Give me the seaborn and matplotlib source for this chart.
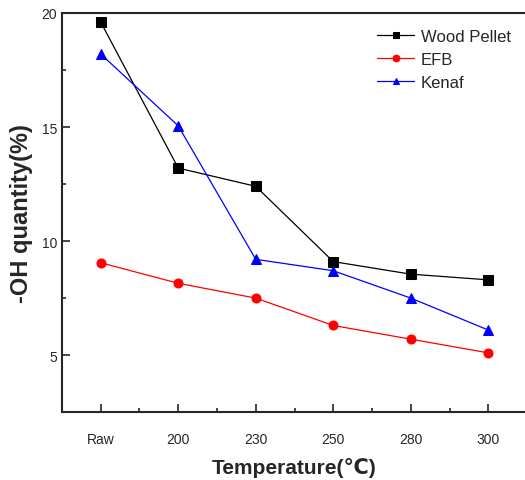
import seaborn as sns
import pandas as pd
import matplotlib.pyplot as plt
from matplotlib.ticker import MultipleLocator, FixedLocator

# Data
temps = ["Raw", "200", "230", "250", "280", "300"]
wood_pellet = [19.6, 13.2, 12.4, 9.1, 8.55, 8.3]
efb = [9.05, 8.15, 7.5, 6.3, 5.7, 5.1]
kenaf = [18.2, 15.05, 9.2, 8.7, 7.5, 6.1]

series = ["Wood Pellet", "EFB", "Kenaf"]
colors = ["black", "red", "blue"]
markers = ["s", "o", "^"]

df = pd.DataFrame({
    "Temperature": temps * 3,
    "OH": wood_pellet + efb + kenaf,
    "sample": sum([[s] * len(temps) for s in series], []),
})

sns.set_style("ticks")
plt.rcParams["font.family"] = ["Liberation Sans", "DejaVu Sans"]

fig = plt.figure(figsize=(5.25, 4.81), dpi=100)
ax = fig.add_axes([0.118, 0.141, 0.886, 0.830])

sns.lineplot(data=df, x="Temperature", y="OH", hue="sample", style="sample",
             palette=colors, markers=markers, dashes=False, sort=False,
             markersize=6.5, linewidth=0.9, markeredgecolor=None, ax=ax)

ax.set_xlim(-0.5, 5.5)
ax.set_ylim(2.5, 20)
ax.yaxis.set_major_locator(MultipleLocator(5))
ax.yaxis.set_minor_locator(MultipleLocator(2.5))
ax.xaxis.set_minor_locator(FixedLocator([0.5, 1.5, 2.5, 3.5, 4.5]))
ax.tick_params(which="both", direction="in", labelsize=10, width=1.2)
ax.tick_params(which="major", length=6)
ax.tick_params(which="minor", length=3)
ax.tick_params(axis="x", pad=14)
for sp in ax.spines.values():
    sp.set_linewidth(1.5)

ax.set_xlabel("Temperature(℃)", fontsize=15, fontweight="bold", labelpad=8)
ax.set_ylabel("-OH quantity(%)", fontsize=17, fontweight="bold", labelpad=6)

leg = ax.legend(loc="upper right", frameon=False, fontsize=12,
                handlelength=2.2, handletextpad=0.4, markerscale=0.75,
                borderaxespad=0.3, labelspacing=0.5,
                bbox_to_anchor=(0.99, 0.99))

fig.savefig("out.png", dpi=100)
